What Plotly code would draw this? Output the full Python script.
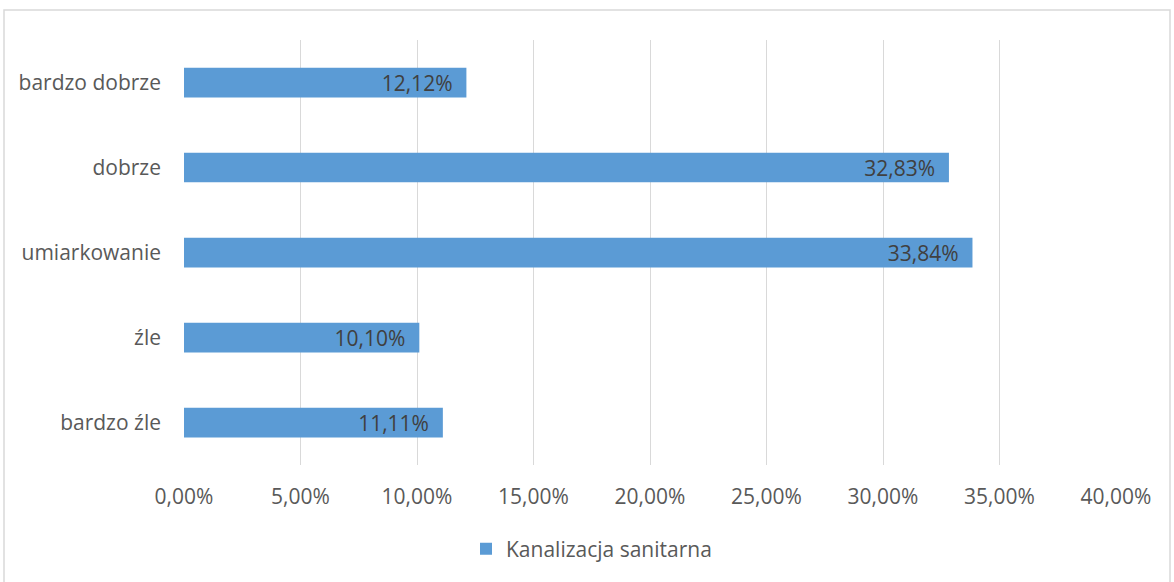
import plotly.graph_objects as go

categories = ["bardzo źle", "źle", "umiarkowanie", "dobrze", "bardzo dobrze"]
values = [11.11, 10.10, 33.84, 32.83, 12.12]
labels = ["11,11%", "10,10%", "33,84%", "32,83%", "12,12%"]
tick_vals = [0, 5, 10, 15, 20, 25, 30, 35, 40]
tick_text = ["0,00%", "5,00%", "10,00%", "15,00%", "20,00%", "25,00%", "30,00%", "35,00%", "40,00%"]
series_name = "Kanalizacja sanitarna"

FONT = "Open Sans"
FS = 21

fig = go.Figure()
fig.add_trace(go.Bar(
    y=categories, x=values, orientation="h", name=series_name,
    marker=dict(color="#5B9BD5", line=dict(width=0)),
    text=[t + "  " for t in labels], textposition="inside", insidetextanchor="end",
    constraintext="none",
    textfont=dict(family=FONT, size=FS, color="#404040"),
    width=0.35, showlegend=True,
))

W, H = 1174, 582
L, R, T, B = 184, 58, 40, 117
pw, ph = W - L - R, H - T - B

def px(x):
    return (x - L) / pw

def py(y):
    return (H - B - y) / ph

fig.update_layout(
    width=W, height=H,
    margin=dict(l=L, r=R, t=T, b=B),
    paper_bgcolor="white", plot_bgcolor="white",
    font=dict(family=FONT, size=FS, color="#595959"),
    uniformtext=dict(mode=False),
    xaxis=dict(range=[0, 40], tickvals=tick_vals, ticktext=tick_text,
               showgrid=True, gridcolor="#d9d9d9", gridwidth=1,
               zeroline=False, showline=False, ticks="",
               ticklabelstandoff=17, fixedrange=True),
    yaxis=dict(showgrid=False, zeroline=False, showline=False, ticks="",
               ticklabelstandoff=22, fixedrange=True),
    legend=dict(orientation="h", x=px(466), xanchor="left", y=py(549), yanchor="middle",
                font=dict(family=FONT, size=FS, color="#595959"),
                itemwidth=30, bgcolor="rgba(0,0,0,0)"),
    shapes=[dict(type="rect", xref="paper", yref="paper",
                 x0=px(4), x1=px(1170), y0=py(620), y1=py(10),
                 line=dict(color="#d9d9d9", width=1.5), fillcolor="rgba(0,0,0,0)", layer="below")],
)

fig.write_html("out.html", config={"displayModeBar": False},
               post_script="document.body.style.margin='0';")
